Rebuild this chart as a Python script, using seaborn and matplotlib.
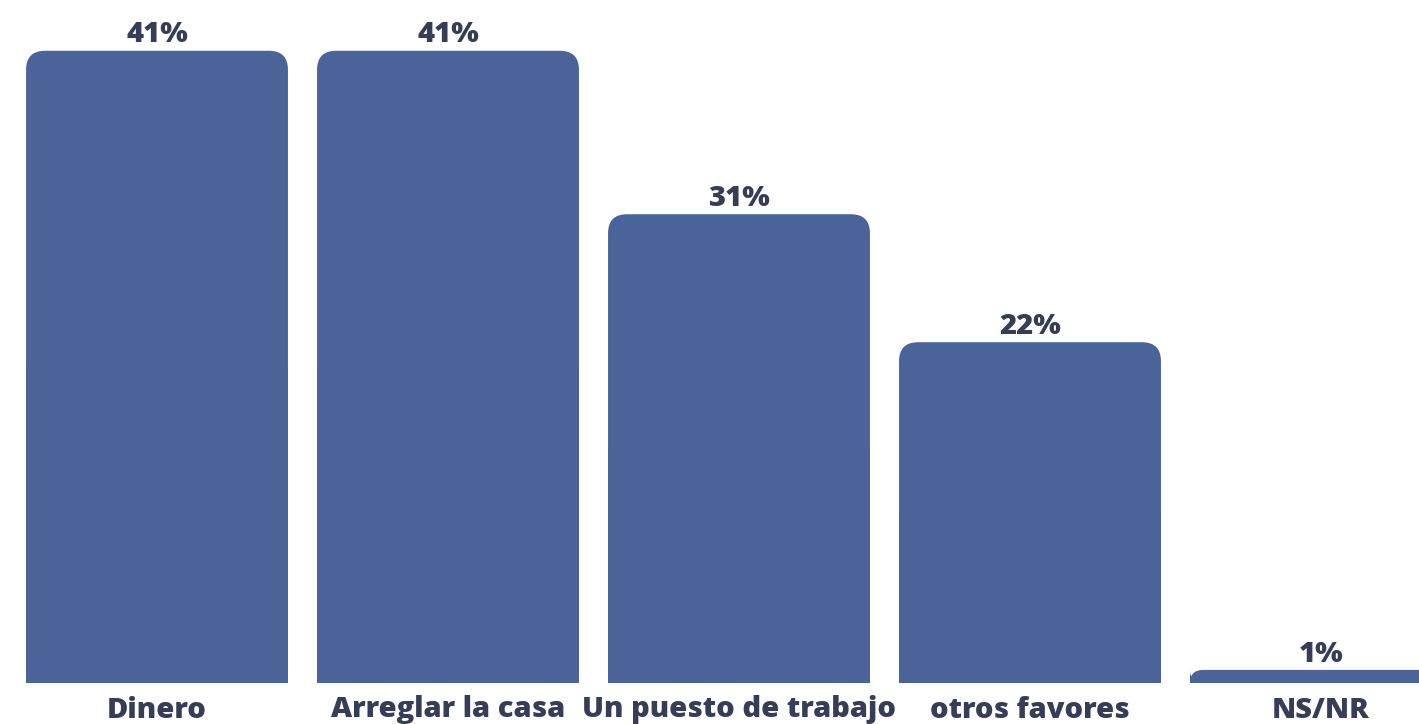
import matplotlib
matplotlib.use('Agg')
import matplotlib.pyplot as plt
from matplotlib.patches import FancyBboxPatch, Rectangle
import seaborn as sns

categories = ['Dinero', 'Arreglar la casa', 'Un puesto de trabajo', 'otros favores', 'NS/NR']
values = [41.0, 41.0, 30.4, 22.1, 0.85]
value_labels = ['41%', '41%', '31%', '22%', '1%']

bar_color = '#4A6399'
text_color = '#363D57'

sns.set_theme(style='white')
plt.rcParams['font.family'] = ['Open Sans', 'DejaVu Sans']

W, H = 1419, 724
fig = plt.figure(figsize=(W / 100, H / 100), dpi=100)
# ejes en pixeles: barra 0 centrada en x=157, paso 291 px, base en y=683
bottom_px = 683
px_per_unit_y = 15.42
ax = fig.add_axes([0, 1 - bottom_px / H, 1, bottom_px / H])

sns.barplot(x=categories, y=values, color=bar_color, width=0.9, ax=ax,
            saturation=1)

ax.set_xlim((0 - 157) / 291, (W - 157) / 291)
ax.set_ylim(0, bottom_px / px_per_unit_y)

# esquinas superiores redondeadas
aspect = 291 / px_per_unit_y
radius_px = 19
for p in list(ax.patches):
    x0, w, h = p.get_x(), p.get_width(), p.get_height()
    r_px = min(radius_px, h * px_per_unit_y)
    r = r_px / 291
    p.remove()
    ax.add_patch(FancyBboxPatch((x0, 0), w, h,
                                boxstyle=f'round,pad=0,rounding_size={r}',
                                mutation_aspect=aspect, fc=bar_color, ec='none'))
    ax.add_patch(Rectangle((x0, 0), w, h / 2, fc=bar_color, ec='none'))

for i, (v, lab) in enumerate(zip(values, value_labels)):
    ax.annotate(lab, (i, v), xytext=(0, 6), textcoords='offset points',
                ha='center', va='baseline', fontsize=21, fontweight=800,
                color=text_color)

ax.set_xticks(range(len(categories)))
ax.set_xticklabels(categories, fontsize=21, fontweight=800, color=text_color)
ax.tick_params(axis='x', length=0, pad=9)
ax.set_yticks([])
ax.set_xlabel('')
ax.set_ylabel('')
sns.despine(ax=ax, left=True, bottom=True)

fig.savefig('out.png', dpi=100)
